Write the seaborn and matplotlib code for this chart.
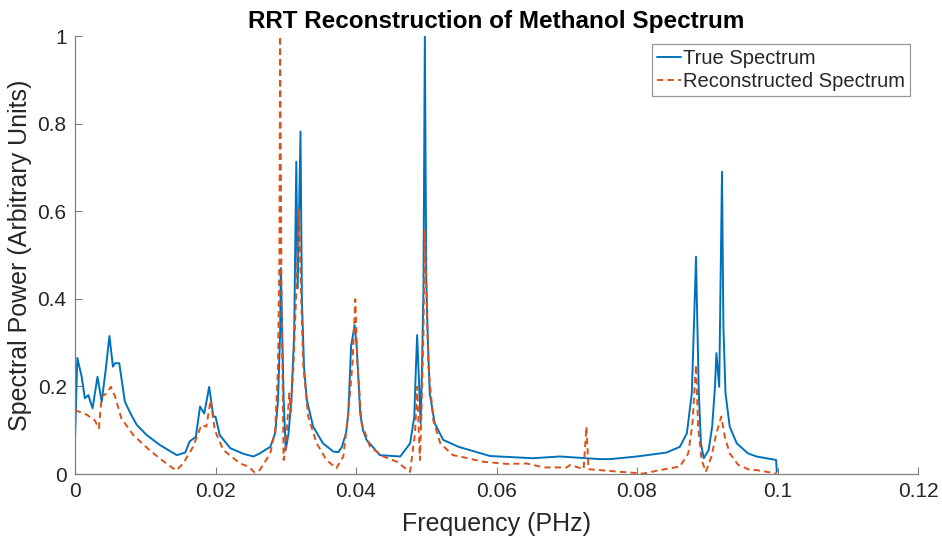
import matplotlib
matplotlib.use("Agg")
import matplotlib.pyplot as plt
import seaborn as sns
import pandas as pd

# True spectrum (frequency in PHz, power in arbitrary units)
true_freq = [0.0000, 0.00033, 0.00095, 0.0014, 0.0019, 0.0025, 0.0032, 0.0038, 0.0044, 0.0049,
             0.0054, 0.0057, 0.0063, 0.0071, 0.0080, 0.0088, 0.0102, 0.0121, 0.0145, 0.0157,
             0.0163, 0.0172, 0.0178, 0.0184, 0.0191, 0.0197, 0.0200, 0.0206, 0.0221, 0.0240,
             0.0254, 0.0263, 0.0278, 0.0285, 0.0289, 0.0292, 0.0293, 0.0295, 0.0297, 0.0300,
             0.0304, 0.0308, 0.0312, 0.0315, 0.0317, 0.0321, 0.0323, 0.0326, 0.0330, 0.0339,
             0.0353, 0.0368, 0.0375, 0.0380, 0.0386, 0.0389, 0.0393, 0.0398, 0.0401, 0.0406,
             0.0410, 0.0415, 0.0434, 0.0463, 0.0477, 0.0483, 0.0485, 0.0487, 0.0490, 0.0492,
             0.0494, 0.0496, 0.0498, 0.0500, 0.0502, 0.0505, 0.0512, 0.0524, 0.0546, 0.0591,
             0.0652, 0.0690, 0.0747, 0.0762, 0.0800, 0.0842, 0.0861, 0.0871, 0.0878, 0.0881,
             0.0884, 0.0886, 0.0888, 0.0891, 0.0895, 0.0902, 0.0907, 0.0911, 0.0913, 0.0917,
             0.0921, 0.0923, 0.0926, 0.0932, 0.0942, 0.0958, 0.0970, 0.0998, 0.0999]
true_power = [0.078, 0.265, 0.222, 0.173, 0.180, 0.150, 0.222, 0.165, 0.242, 0.315,
              0.245, 0.253, 0.253, 0.165, 0.135, 0.112, 0.089, 0.066, 0.043, 0.049,
              0.074, 0.085, 0.154, 0.138, 0.199, 0.131, 0.131, 0.089, 0.059, 0.046,
              0.040, 0.047, 0.062, 0.093, 0.169, 0.322, 0.470, 0.322, 0.169, 0.055,
              0.093, 0.169, 0.321, 0.713, 0.424, 0.782, 0.397, 0.245, 0.169, 0.108,
              0.070, 0.051, 0.050, 0.062, 0.095, 0.138, 0.291, 0.340, 0.291, 0.138,
              0.100, 0.078, 0.043, 0.040, 0.070, 0.131, 0.230, 0.317, 0.199, 0.116,
              0.245, 0.420, 1.000, 0.450, 0.321, 0.184, 0.116, 0.078, 0.062, 0.041,
              0.036, 0.040, 0.034, 0.034, 0.040, 0.049, 0.062, 0.093, 0.184, 0.336,
              0.496, 0.336, 0.184, 0.070, 0.036, 0.055, 0.108, 0.199, 0.276, 0.199,
              0.690, 0.336, 0.184, 0.108, 0.070, 0.047, 0.040, 0.032, 0.005]

# Reconstructed spectrum
rec_freq = [0.0000, 0.0017, 0.0028, 0.0034, 0.0038, 0.0045, 0.0051, 0.0057, 0.0066, 0.0083,
            0.0107, 0.0130, 0.0144, 0.0154, 0.0168, 0.0180, 0.0187, 0.0193, 0.0199, 0.0211,
            0.0235, 0.0247, 0.0256, 0.0263, 0.0278, 0.0285, 0.0289, 0.0291, 0.0292, 0.0294,
            0.0297, 0.0300, 0.0305, 0.0307, 0.0311, 0.0315, 0.0319, 0.0322, 0.0325, 0.0332,
            0.0344, 0.0358, 0.0372, 0.0382, 0.0389, 0.0395, 0.0399, 0.0402, 0.0408, 0.0420,
            0.0439, 0.0458, 0.0477, 0.0484, 0.0487, 0.0491, 0.0493, 0.0496, 0.0498, 0.0503,
            0.0510, 0.0520, 0.0538, 0.0548, 0.0581, 0.0615, 0.0643, 0.0667, 0.0700, 0.0705,
            0.0724, 0.0728, 0.0731, 0.0776, 0.0809, 0.0833, 0.0861, 0.0873, 0.0879, 0.0884,
            0.0887, 0.0892, 0.0898, 0.0906, 0.0913, 0.0920, 0.0925, 0.0932, 0.0944, 0.0961,
            0.0970, 0.0999]
rec_power = [0.146, 0.135, 0.123, 0.104, 0.177, 0.184, 0.199, 0.177, 0.127, 0.089,
             0.053, 0.024, 0.008, 0.024, 0.062, 0.112, 0.108, 0.169, 0.100, 0.055,
             0.024, 0.017, 0.003, 0.009, 0.047, 0.100, 0.245, 0.500, 1.000, 0.397,
             0.032, 0.062, 0.184, 0.142, 0.245, 0.420, 0.603, 0.400, 0.245, 0.131,
             0.070, 0.032, 0.013, 0.040, 0.138, 0.253, 0.399, 0.253, 0.116, 0.062,
             0.040, 0.028, 0.005, 0.093, 0.199, 0.032, 0.131, 0.321, 0.557, 0.245,
             0.123, 0.070, 0.043, 0.040, 0.028, 0.023, 0.024, 0.015, 0.015, 0.021,
             0.011, 0.108, 0.011, 0.005, 0.001, 0.009, 0.017, 0.047, 0.116, 0.249,
             0.108, 0.032, 0.005, 0.040, 0.093, 0.131, 0.085, 0.047, 0.021, 0.009,
             0.009, 0.001]

x_ticks = [0, 0.02, 0.04, 0.06, 0.08, 0.10, 0.12]
x_tick_labels = ["0", "0.02", "0.04", "0.06", "0.08", "0.1", "0.12"]
y_ticks = [0, 0.2, 0.4, 0.6, 0.8, 1.0]
y_tick_labels = ["0", "0.2", "0.4", "0.6", "0.8", "1"]

sns.set_style("white")
plt.rcParams['font.family'] = ['Liberation Sans', 'DejaVu Sans']

df_true = pd.DataFrame({"freq": true_freq, "power": true_power})
df_rec = pd.DataFrame({"freq": rec_freq, "power": rec_power})

fig = plt.figure(figsize=(9.42, 5.42), dpi=100)
ax = fig.add_axes([75/942, 1 - 474/542, (918-75)/942, (474-36)/542])

sns.lineplot(data=df_true, x="freq", y="power", ax=ax, color="#0072BD", lw=1.4,
             estimator=None, label="True Spectrum")
sns.lineplot(data=df_rec, x="freq", y="power", ax=ax, color="#D95319", lw=1.4,
             estimator=None, dashes=False, label="Reconstructed Spectrum")
ax.lines[1].set_dashes([3.2, 2.2])

ax.set_xlim(0, 0.12)
ax.set_ylim(0, 1)
ax.set_xticks(x_ticks)
ax.set_xticklabels(x_tick_labels)
ax.set_yticks(y_ticks)
ax.set_yticklabels(y_tick_labels)
ax.tick_params(bottom=True, left=True, top=False, right=False,
               direction="in", length=5, width=0.8, color="#808080",
               labelsize=15, labelcolor="#262626", pad=6)

for s in ["top", "right"]:
    ax.spines[s].set_visible(False)
for s in ["left", "bottom"]:
    ax.spines[s].set_color("#808080")
    ax.spines[s].set_linewidth(0.9)

ax.set_xlabel("Frequency (PHz)", fontsize=18, color="#262626", labelpad=8)
ax.set_ylabel("Spectral Power (Arbitrary Units)", fontsize=18, color="#262626", labelpad=4)
ax.set_title("RRT Reconstruction of Methanol Spectrum", fontsize=17.5, fontweight="bold",
             color="black", pad=6)

leg = ax.legend(loc="upper right", fontsize=14.5, frameon=True, fancybox=False,
                handlelength=1.2, handletextpad=0.1, borderpad=0.25, labelspacing=0.2,
                borderaxespad=0.4)
leg.get_frame().set_edgecolor("#808080")
leg.get_frame().set_linewidth(0.9)
leg.get_lines()[1].set_dashes([3.2, 2.2])

fig.savefig("out.png", dpi=100)
